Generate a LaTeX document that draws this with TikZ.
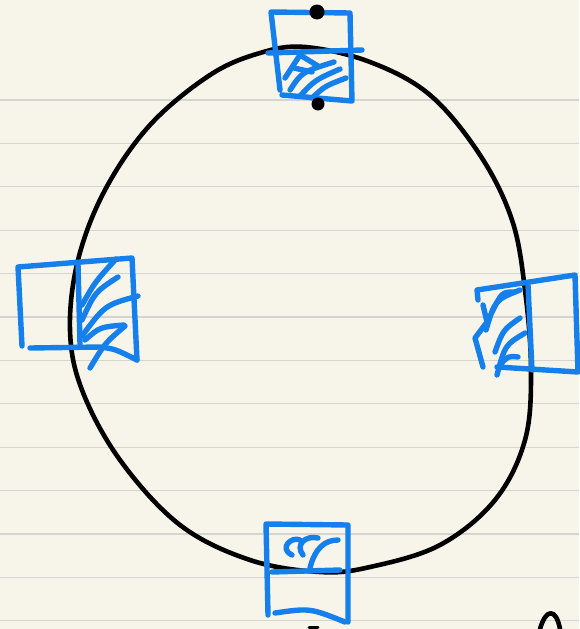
\documentclass[tikz,border=0pt]{standalone}
\usepackage{tikz}
\usetikzlibrary{calc}

\definecolor{paper}{HTML}{F7F5EA}
\definecolor{rule}{HTML}{D4D4D0}
\definecolor{inkblue}{HTML}{1580EC}

\begin{document}
\begin{tikzpicture}[x=1pt,y=-1pt,
    ruled/.style={draw=rule,line width=1.3pt},
    loop/.style={draw=black,line width=4.6pt,line cap=round,line join=round},
    pen/.style={draw=inkblue,line width=5.4pt,line cap=round,line join=round},
    blob/.style={fill=black}
]
% paper and its lines
\fill[paper] (0,0) rectangle (579,629);
\useasboundingbox (0,0) rectangle (579,629);
\foreach \k in {0,...,12}
    \draw[ruled] (0,{100+43.4*\k}) -- (579,{100+43.4*\k});

% the ring
\draw[loop] plot[smooth cycle,tension=0.6] coordinates {
    (305,47) (370,62) (430,95) (480,155) (512,220) (525,290) (531,370)
    (525,440) (495,500) (440,545) (370,567) (320,572) (250,560) (180,525)
    (120,460) (82,390) (70,330) (78,260) (105,190) (150,125) (210,75) (260,53)};

% top square
\draw[pen] (280,90) -- (271,12) -- (350,13) -- (352,101) -- (282,95);
\draw[pen] (268,53) -- (362,50);
\draw[pen] (285,78) -- (300,55) -- (318,66);
\draw[pen] (290,90) .. controls (302,72) .. (334,62);
\draw[pen] (300,96) .. controls (315,80) .. (340,69);
\draw[pen] (312,98) .. controls (325,86) .. (346,78);
\draw[pen] (294,68) -- (312,72);
\fill[blob] (317,12) circle (7.5);
\fill[blob] (318,104) circle (6.5);

% left square
\draw[pen] (22,346) -- (18,267) -- (132,258) -- (137,360);
\draw[pen] (30,348) -- (100,347) .. controls (115,349) .. (137,360);
\draw[pen] (78,264) -- (80,344);
\draw[pen] (82,305) .. controls (95,282) .. (116,259);
\draw[pen] (82,320) .. controls (95,292) .. (118,277);
\draw[pen] (82,336) .. controls (105,305) .. (138,296);
\draw[pen] (85,340) .. controls (100,327) .. (124,325);
\draw[pen] (90,368) .. controls (105,343) .. (125,326);

% right square
\draw[pen] (478,300) -- (477,290) -- (575,275) -- (578,372) -- (497,367);
\draw[pen] (528,285) -- (532,370);
\draw[pen] (483,305) -- (487,322) -- (475,338) -- (483,367);
\draw[pen] (486,330) .. controls (495,300) .. (520,290);
\draw[pen] (492,312) .. controls (502,292) .. (515,292);
\draw[pen] (495,352) .. controls (503,330) .. (520,318);
\draw[pen] (497,375) .. controls (505,345) .. (525,333);
\draw[pen] (500,365) .. controls (508,356) .. (518,357);

% bottom square
\draw[pen] (268,615) -- (266,524) -- (348,525) -- (348,622);
\draw[pen] (275,613) .. controls (310,608) .. (345,622);
\draw[pen] (272,572) -- (340,570);
\draw[pen] (292,555) .. controls (278,548) and (292,536) .. (300,540);
\draw[pen] (303,555) .. controls (295,545) and (305,535) .. (318,538);
\draw[pen] (310,568) .. controls (315,548) and (325,540) .. (338,540);

% loose pen marks at the foot
\draw[loop] (540,629) .. controls (546,608) and (556,608) .. (560,629);
\draw[loop,line width=3pt] (309,627) -- (318,627);
\end{tikzpicture}
\end{document}
